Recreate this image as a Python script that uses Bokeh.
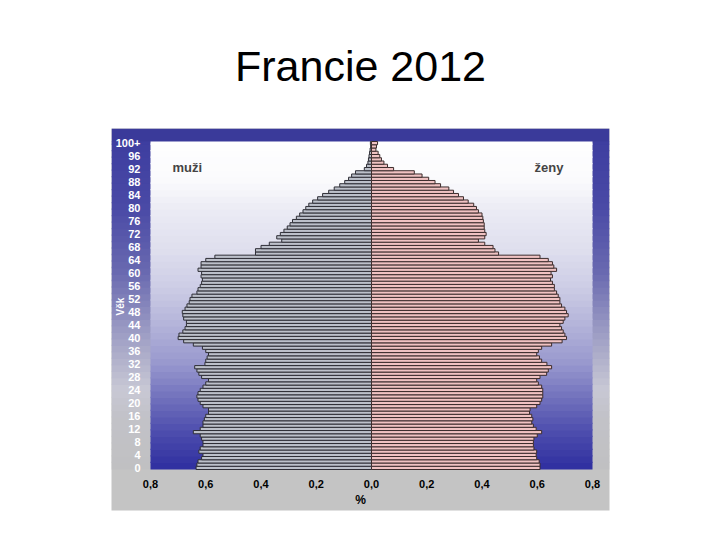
import math

from bokeh.embed import file_html
from bokeh.models import BoxAnnotation, FixedTicker, Label, Range1d
from bokeh.plotting import figure
from bokeh.resources import INLINE

# age groups 0..100 (100 = "100+"), share of total population in %
ages = list(range(101))
male = [
    0.635, 0.632, 0.628, 0.615, 0.61, 0.625, 0.62, 0.61, 0.61, 0.615,
    0.62, 0.645, 0.62, 0.61, 0.61, 0.605, 0.60, 0.59, 0.59, 0.61,
    0.62, 0.628, 0.632, 0.628, 0.62, 0.61, 0.60, 0.59, 0.615, 0.625,
    0.632, 0.64, 0.603, 0.60, 0.595, 0.59, 0.60, 0.612, 0.645, 0.68,
    0.70, 0.697, 0.683, 0.675, 0.67, 0.67, 0.68, 0.683, 0.685, 0.675,
    0.668, 0.66, 0.657, 0.65, 0.632, 0.628, 0.62, 0.615, 0.612, 0.617,
    0.615, 0.628, 0.617, 0.617, 0.60, 0.567, 0.42, 0.42, 0.40, 0.37,
    0.325, 0.343, 0.33, 0.317, 0.305, 0.295, 0.286, 0.272, 0.26, 0.248,
    0.238, 0.227, 0.213, 0.195, 0.177, 0.155, 0.135, 0.115, 0.097, 0.083,
    0.072, 0.058, 0.026, 0.018, 0.013, 0.011, 0.009, 0.007, 0.005, 0.003,
    0.004,
]
female = [
    0.61, 0.61, 0.607, 0.598, 0.596, 0.598, 0.588, 0.586, 0.586, 0.588,
    0.60, 0.616, 0.596, 0.586, 0.58, 0.584, 0.58, 0.572, 0.574, 0.598,
    0.61, 0.616, 0.62, 0.62, 0.62, 0.616, 0.604, 0.598, 0.61, 0.634,
    0.64, 0.652, 0.635, 0.616, 0.608, 0.598, 0.604, 0.616, 0.652, 0.69,
    0.706, 0.70, 0.694, 0.688, 0.682, 0.694, 0.70, 0.712, 0.706, 0.70,
    0.688, 0.682, 0.682, 0.676, 0.67, 0.662, 0.662, 0.655, 0.648, 0.655,
    0.65, 0.67, 0.66, 0.655, 0.64, 0.61, 0.46, 0.447, 0.44, 0.41,
    0.387, 0.41, 0.415, 0.41, 0.408, 0.408, 0.405, 0.403, 0.40, 0.387,
    0.38, 0.37, 0.35, 0.333, 0.315, 0.297, 0.28, 0.25, 0.23, 0.207,
    0.183, 0.155, 0.08, 0.058, 0.045, 0.036, 0.03, 0.024, 0.016, 0.018,
    0.022,
]
x_ticks = [-0.8, -0.6, -0.4, -0.2, 0.0, 0.2, 0.4, 0.6, 0.8]
x_tick_labels = ["0,8", "0,6", "0,4", "0,2", "0,0", "0,2", "0,4", "0,6", "0,8"]
y_ticks = list(range(0, 101, 4))
y_tick_labels = [str(a) for a in y_ticks[:-1]] + ["100+"]

FONT = "Liberation Sans"
W, H = 720, 540

# page pixels: inner plot area and the grey/blue panel around it
IL, IR, IT, IB = 150, 592, 141, 469
PL, PR, PT, PB = 111, 609, 128, 510
XI0, XI1, YI0, YI1 = -0.8, 0.8, -0.5, 100.5


def xd(px):
    return XI0 + (px - IL) * (XI1 - XI0) / (IR - IL)


def yd(py):
    return YI0 + (IB - py) * (YI1 - YI0) / (IB - IT)


def hex2rgb(h):
    return tuple(int(h[i:i + 2], 16) for i in (1, 3, 5))


def blend(stops, a):
    for (a0, c0), (a1, c1) in zip(stops, stops[1:]):
        if a0 <= a <= a1:
            t = (a - a0) / (a1 - a0)
            r0, r1 = hex2rgb(c0), hex2rgb(c1)
            return "#%02x%02x%02x" % tuple(round(u + (v - u) * t) for u, v in zip(r0, r1))
    return stops[0][1] if a < stops[0][0] else stops[-1][1]


def bands(p, stops, left, right, y0, y1, level, step=2.0):
    edge = y0
    while edge < y1 - 1e-9:
        top = min(edge + step, y1)
        col = blend(stops, (edge + top) / 2)
        p.add_layout(BoxAnnotation(left=left, right=right, bottom=edge,
                                   top=min(top + 0.4, y1), fill_color=col, fill_alpha=1,
                                   line_color=None, level=level))
        edge = top


p = figure(
    width=W, height=H,
    x_range=Range1d(xd(PL), xd(PR)), y_range=Range1d(yd(PB), yd(PT)),
    output_backend="svg", toolbar_location=None, tools="",
    min_border_left=PL, min_border_right=W - PR,
    min_border_top=PT, min_border_bottom=H - PB,
    background_fill_color="#c4c4c4", border_fill_color="white",
    outline_line_color=None,
)
p.xgrid.visible = False
p.ygrid.visible = False

p.title.text = "Francie 2012"
p.title.align = "center"
p.title.text_font = FONT
p.title.text_font_style = "normal"
p.title.text_font_size = "43px"
p.title.text_color = "black"
p.title.standoff = 77

# outer panel: dark blue at the top fading to grey
panel_stops = [(-14, "#c4c4c4"), (0, "#c0c0c2"), (16, "#c2c2c8"), (24, "#c8c8d4"),
               (32, "#b4b4cc"), (44, "#9696c2"), (60, "#6a6ab0"), (80, "#4a4aa6"),
               (100, "#3e3ea0"), (105, "#3a3a9a")]
p.add_layout(BoxAnnotation(left=xd(PL), right=xd(PR), top=yd(PT), bottom=YI1 - 0.2,
                           fill_color="#3a3a9a", fill_alpha=1, line_color=None, level="image"))
bands(p, panel_stops, xd(PL), xd(PR), YI0, YI1, "image")

# inner background gradient: white at the top, deep blue at the bottom
inner_stops = [(0, "#3030a0"), (10, "#4a4aac"), (20, "#6c6cba"), (32, "#9898ce"),
               (44, "#b4b4da"), (56, "#cdcde6"), (68, "#e0e0ee"), (80, "#ececf5"),
               (88, "#fafafc"), (101, "#ffffff")]
bands(p, inner_stops, XI0, XI1, YI0, YI1, "underlay")

p.hbar(y=ages, left=[-v for v in male], right=0, height=1,
       fill_color="#bcc0ca", line_color="#2e2e36", line_width=1)
p.hbar(y=ages, left=0, right=female, height=1,
       fill_color="#f0c2c2", line_color="#3c2c2c", line_width=1)

p.xaxis.ticker = FixedTicker(ticks=x_ticks)
p.xaxis.major_label_overrides = dict(zip(x_ticks, x_tick_labels))
p.xaxis.axis_label = "%"
p.xaxis.axis_label_text_font = FONT
p.xaxis.axis_label_text_font_style = "bold"
p.xaxis.axis_label_text_font_size = "12px"
p.xaxis.axis_label_text_color = "black"
p.xaxis.axis_label_standoff = 2
p.xaxis.major_label_text_font = FONT
p.xaxis.major_label_text_font_style = "bold"
p.xaxis.major_label_text_font_size = "11px"
p.xaxis.major_label_text_color = "black"
p.xaxis.major_label_standoff = -(PB - IB) + 4
p.xaxis.major_tick_line_color = None
p.xaxis.minor_tick_line_color = None
p.xaxis.axis_line_color = None

p.yaxis.ticker = FixedTicker(ticks=y_ticks)
p.yaxis.major_label_overrides = dict(zip(y_ticks, y_tick_labels))
p.yaxis.major_label_text_font = FONT
p.yaxis.major_label_text_font_style = "bold"
p.yaxis.major_label_text_font_size = "11px"
p.yaxis.major_label_text_color = "white"
p.yaxis.major_label_standoff = -(IL - PL) + 4
p.yaxis.major_tick_line_color = None
p.yaxis.minor_tick_line_color = None
p.yaxis.axis_line_color = None

p.add_layout(Label(x=xd(172), y=yd(167), text="muži", text_baseline="alphabetic",
                   text_font=FONT, text_font_style="bold", text_font_size="13px"))
p.add_layout(Label(x=xd(534), y=yd(167), text="ženy", text_baseline="alphabetic",
                   text_font=FONT, text_font_style="bold", text_font_size="13px"))
p.add_layout(Label(x=xd(120), y=yd(306), text="Věk", angle=math.pi / 2,
                   text_align="center", text_baseline="middle", text_font=FONT,
                   text_font_style="bold", text_font_size="10px", text_color="white"))

open("out.html", "w").write(file_html(p, INLINE))
